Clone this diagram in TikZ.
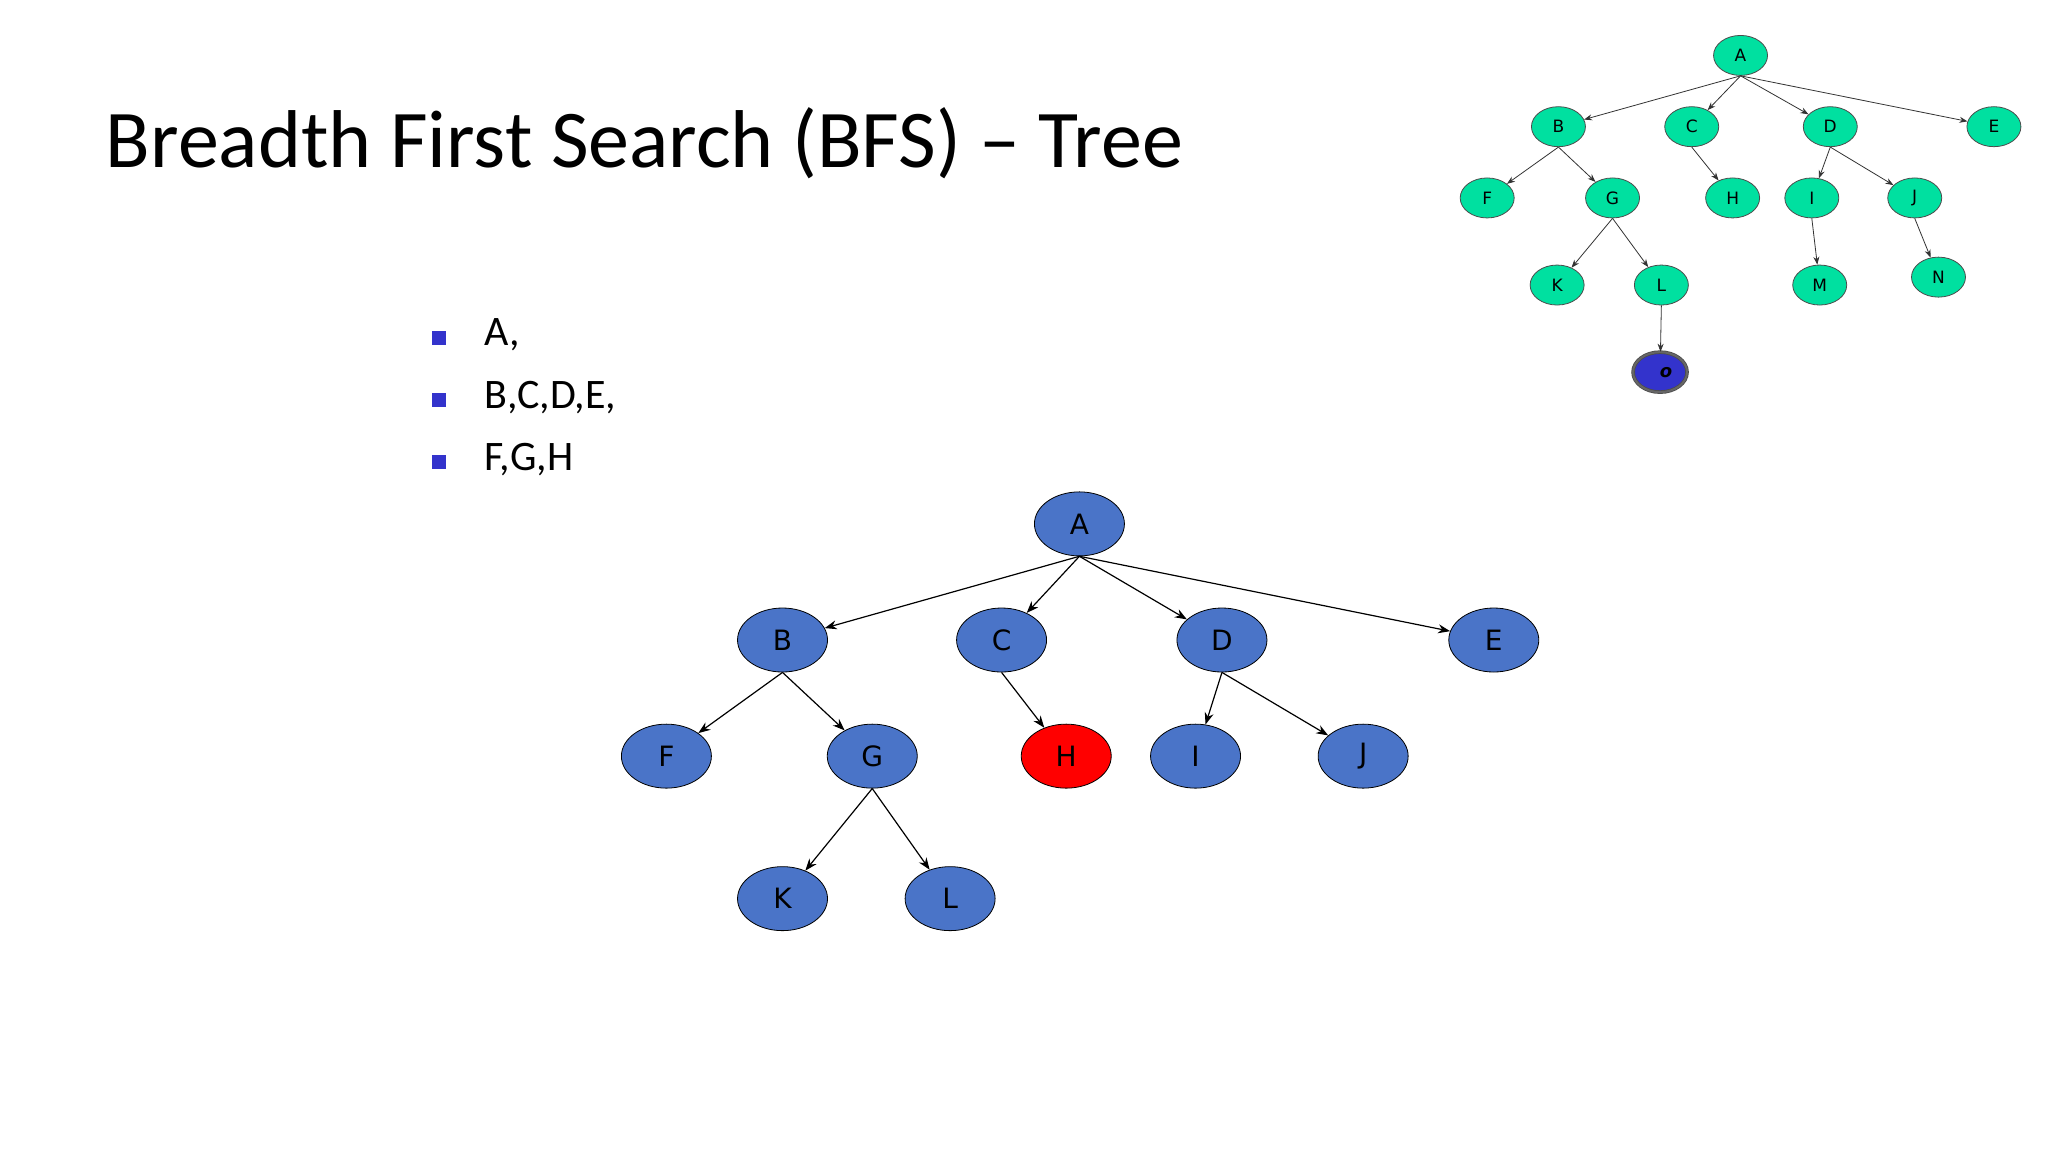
\documentclass[tikz,border=0pt]{standalone}
\usepackage{fontspec}
\setmainfont{Carlito}
\newfontfamily\nodefont{DejaVu Sans}
\usetikzlibrary{shapes.geometric,arrows.meta}
\begin{document}
\begin{tikzpicture}[x=0.6598pt,y=-0.6598pt,
  bignode/.style={ellipse,draw=black,fill=bigblue,minimum width=45pt,minimum height=32pt,inner sep=0pt,font=\nodefont\fontsize{14}{14}\selectfont},
  smallnode/.style={ellipse,draw=black!70,fill=smallgreen,minimum width=27pt,minimum height=20pt,inner sep=0pt,font=\nodefont\fontsize{8.5}{8.5}\selectfont},
  bigedge/.style={-{Stealth[length=6pt,width=4.5pt]},line width=0.6pt},
  smalledge/.style={-{Stealth[length=4pt,width=3pt]},line width=0.4pt,draw=black!80},
  bul/.style={fill=bulletblue,minimum size=7pt,inner sep=0pt},
  bultext/.style={anchor=west,font=\fontsize{21}{21}\selectfont}]
\definecolor{bigblue}{HTML}{4A74C8}
\definecolor{smallgreen}{HTML}{00E0A0}
\definecolor{bulletblue}{HTML}{3333CC}
\definecolor{oblue}{HTML}{3333CC}
\useasboundingbox[fill=white] (0,0) rectangle (1552,873);
\node[anchor=base west,inner sep=0pt,font=\fontsize{41}{41}\selectfont] (title) at (80,127) {Breadth First Search (BFS) -- Tree};
% bullets
\node[bul] (b1) at (333,256) {}; \node[bultext] (t1) at (362,254) {A,};
\node[bul] (b2) at (333,303) {}; \node[bultext] (t2) at (362,301) {B,C,D,E,};
\node[bul] (b3) at (333,350) {}; \node[bultext] (t3) at (362,348) {F,G,H};
% big tree
\node[bignode] (A) at (818,397) {A};
\node[bignode] (B) at (593,485) {B};
\node[bignode] (C) at (759,485) {C};
\node[bignode] (D) at (926,485) {D};
\node[bignode] (E) at (1132,485) {E};
\node[bignode] (F) at (505,573) {F};
\node[bignode] (G) at (661,573) {G};
\node[bignode,fill=red] (H) at (808,573) {H};
\node[bignode] (I) at (906,573) {I};
\node[bignode] (J) at (1033,573) {J};
\node[bignode] (K) at (593,681) {K};
\node[bignode] (L) at (720,681) {L};
\foreach \p/\c in {A/B,A/C,A/D,A/E,B/F,B/G,C/H,D/I,D/J,G/K,G/L}
  \draw[bigedge] (\p.south) -- (\c);
% small tree
\node[smallnode] (sA) at (1319,42) {A};
\node[smallnode] (sB) at (1181,96) {B};
\node[smallnode] (sC) at (1282,96) {C};
\node[smallnode] (sD) at (1387,96) {D};
\node[smallnode] (sE) at (1511,96) {E};
\node[smallnode] (sF) at (1127,150) {F};
\node[smallnode] (sG) at (1222,150) {G};
\node[smallnode] (sH) at (1313,150) {H};
\node[smallnode] (sI) at (1373,150) {I};
\node[smallnode] (sJ) at (1451,150) {J};
\node[smallnode] (sK) at (1180,216) {K};
\node[smallnode] (sL) at (1259,216) {L};
\node[smallnode] (sM) at (1379,216) {M};
\node[smallnode] (sN) at (1469,210) {N};
\node[smallnode,fill=oblue,double=black!60,double distance=1pt,font=\nodefont\bfseries\itshape\fontsize{9}{9}\selectfont] (sO) at (1258,282) {\hspace{6pt}o};
\foreach \p/\c in {sA/sB,sA/sC,sA/sD,sA/sE,sB/sF,sB/sG,sC/sH,sD/sI,sD/sJ,sG/sK,sG/sL,sI/sM,sJ/sN,sL/sO}
  \draw[smalledge] (\p.south) -- (\c);
\end{tikzpicture}
\end{document}
